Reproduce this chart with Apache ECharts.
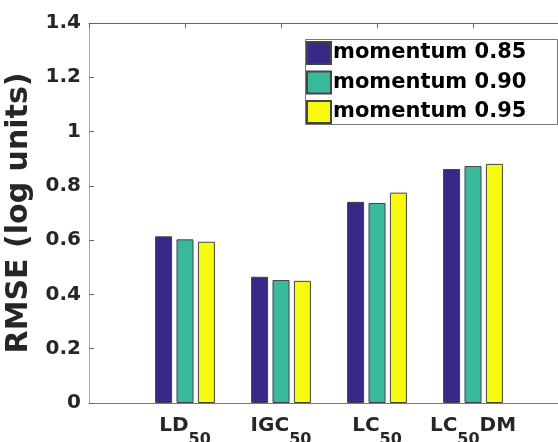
<!DOCTYPE html>
<html><head><meta charset="utf-8">
<script src="https://cdn.jsdelivr.net/npm/echarts@6/dist/echarts.min.js"></script>
<style>html,body{margin:0;padding:0;background:#fff}#c{width:558px;height:442px}</style>
</head><body><div id="c"></div>
<script>
var categories = ['', 'LD|50', 'IGC|50', 'LC|50', 'LC|50|DM', ''];
var seriesNames = ['momentum 0.85', 'momentum 0.90', 'momentum 0.95'];
var m085 = [null, 0.614, 0.465, 0.741, 0.862, null];
var m090 = [null, 0.603, 0.453, 0.737, 0.873, null];
var m095 = [null, 0.594, 0.450, 0.775, 0.881, null];
var yTicks = [0, 0.2, 0.4, 0.6, 0.8, 1, 1.2, 1.4];
var colors = ['#352a87', '#38b99e', '#f9fb0e'];

var FONT = 'DejaVu Sans';
var chart = echarts.init(document.getElementById('c'), null, {renderer: 'canvas'});
function fmtCat(v) {
  if (!v) return '';
  var p = v.split('|');
  var s = '{h|\u200b}{b|' + p[0] + '}{s|' + p[1] + '}';
  if (p[2]) s += '{b|' + p[2] + '}';
  return s;
}
var vals = [m085, m090, m095];
chart.setOption({
  animation: false,
  color: colors,
  grid: {left: 89, top: 23, width: 480, height: 380, containLabel: false, outerBoundsMode: 'none'},
  legend: {
    left: 306, top: 41, orient: 'vertical', padding: 0,
    itemWidth: 24, itemHeight: 22, itemGap: 5.5,
    icon: 'rect',
    textStyle: {fontFamily: FONT, fontWeight: 'bold', fontSize: 21, color: '#000', padding: [0,0,0,-3]},
    data: seriesNames
  },
  graphic: [{type: 'rect', left: 303, top: 37, shape: {width: 252, height: 85},
    style: {fill: 'none', stroke: '#777', lineWidth: 1}, z: 10}],
  xAxis: [{
    type: 'category', data: categories, boundaryGap: false,
    axisLine: {lineStyle: {color: '#777', width: 1}},
    axisTick: {show: false},
    axisLabel: {
      interval: 0, margin: 13, formatter: fmtCat, verticalAlign: 'top',
      rich: {
        h: {fontSize: 1, lineHeight: 32, verticalAlign: 'top'},
        b: {fontFamily: FONT, fontWeight: 'bold', fontSize: 20, color: '#262626', verticalAlign: 'top', lineHeight: 20},
        s: {fontFamily: FONT, fontWeight: 'bold', fontSize: 16, color: '#262626', verticalAlign: 'bottom', lineHeight: 16}
      }
    },
    splitLine: {show: false}
  }, {
    type: 'category', data: categories, boundaryGap: false, position: 'top',
    axisLine: {lineStyle: {color: '#666', width: 1}},
    axisTick: {show: true, inside: true, length: 5, lineStyle: {color: '#666'}},
    axisLabel: {show: false}
  }],
  yAxis: {
    type: 'value', min: 0, max: 1.4, interval: 0.2,
    name: 'RMSE (log units)', nameLocation: 'middle', nameRotate: 90, nameGap: 46,
    nameTextStyle: {fontFamily: FONT, fontWeight: 'bold', fontSize: 30, color: '#262626'},
    axisLine: {show: true, lineStyle: {color: '#aaa', width: 1}},
    axisTick: {show: true, inside: true, length: 5, lineStyle: {color: '#666'}},
    axisLabel: {fontFamily: FONT, fontWeight: 'bold', fontSize: 20, color: '#262626', margin: 8,
      formatter: function (v) { return yTicks.indexOf(+v.toFixed(1)) >= 0 ? String(+v.toFixed(1)) : ''; }},
    splitLine: {show: false}
  },
  series: seriesNames.map(function (n, i) {
    return {
      name: n, type: 'bar', data: vals[i], barWidth: 17, barGap: '26%',
      itemStyle: {color: colors[i], borderColor: '#444', borderWidth: 1}
    };
  })
});
</script></body></html>
